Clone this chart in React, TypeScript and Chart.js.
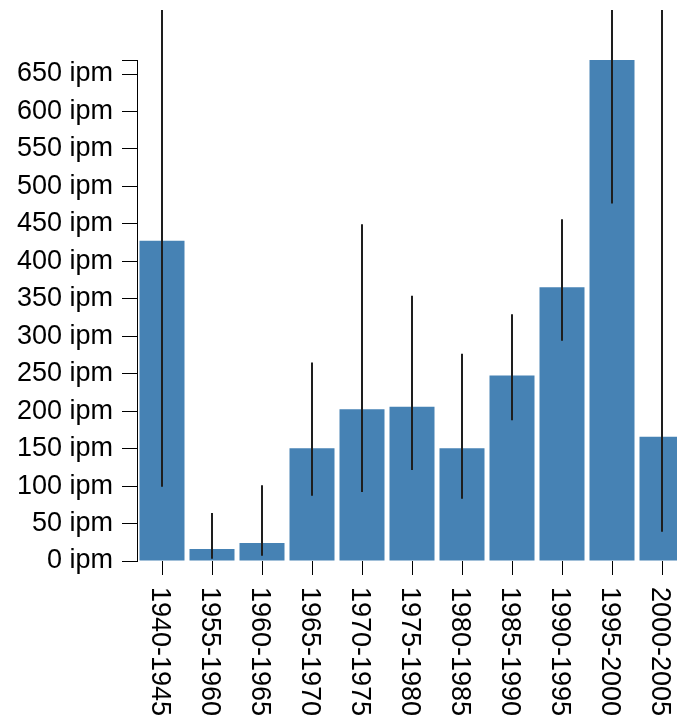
import React, { useEffect, useRef } from "react";
import { Chart, registerables } from "chart.js";

Chart.register(...registerables);

const categories = [
  "1940-1945",
  "1955-1960",
  "1960-1965",
  "1965-1970",
  "1970-1975",
  "1975-1980",
  "1980-1985",
  "1985-1990",
  "1990-1995",
  "1995-2000",
  "2000-2005",
];
const values = [427.5, 16, 24, 150.5, 202.5, 206, 150.5, 247.5, 365.5, 668.7, 166];
const errLow = [99, 3, 7, 87, 92, 121.5, 83, 188, 294, 477, 39];
const errHigh = [760, 64, 101, 265, 449.5, 354, 276.5, 329.5, 456, 860, 780];
const tickStep = 50;
const unit = "ipm";

const FONT = "'Liberation Sans', Arial, sans-serif";
const FONT_SIZE = 27;

const errorBarPlugin = {
  id: "errorBars",
  afterDatasetsDraw(chart: any) {
    const { ctx } = chart;
    const xs = chart.scales.x;
    const ys = chart.scales.y;
    ctx.save();
    ctx.strokeStyle = "#1e1e1e";
    ctx.lineWidth = 2;
    categories.forEach((_, i) => {
      const x = Math.round(xs.getPixelForValue(i));
      const y1 = ys.getPixelForValue(errLow[i]);
      const y2 = ys.getPixelForValue(errHigh[i]);
      ctx.beginPath();
      ctx.moveTo(x, y1);
      ctx.lineTo(x, y2);
      ctx.stroke();
    });
    ctx.restore();
  },
};

const xLabelPlugin = {
  id: "xLabels",
  afterDraw(chart: any) {
    const { ctx } = chart;
    const xs = chart.scales.x;
    ctx.save();
    ctx.fillStyle = "#000";
    ctx.font = `${FONT_SIZE}px ${FONT}`;
    ctx.textAlign = "left";
    ctx.textBaseline = "alphabetic";
    categories.forEach((label, i) => {
      const x = xs.getPixelForValue(i);
      const y = xs.top + 26;
      ctx.save();
      ctx.translate(x, y);
      ctx.rotate(Math.PI / 2);
      ctx.fillText(label, 0, FONT_SIZE * 0.36);
      ctx.restore();
    });
    ctx.restore();
  },
};

export default function App() {
  const ref = useRef<HTMLCanvasElement | null>(null);

  useEffect(() => {
    if (!ref.current) return;
    const yMax = Math.max(...values);
    const chart = new Chart(ref.current, {
      type: "bar",
      data: {
        labels: categories,
        datasets: [
          {
            data: values,
            backgroundColor: "#4682b4",
            borderWidth: 0,
            barPercentage: 0.9,
            categoryPercentage: 1,
          },
        ],
      },
      options: {
        animation: false,
        responsive: false,
        maintainAspectRatio: false,
        devicePixelRatio: 1,
        layout: { padding: { top: 50, left: 0, right: 0, bottom: 0 } },
        plugins: {
          legend: { display: false },
          tooltip: { enabled: false },
        },
        scales: {
          x: {
            type: "category",
            offset: true,
            grid: {
              offset: false,
              drawOnChartArea: false,
              drawTicks: true,
              tickLength: 14,
              color: "#000",
              lineWidth: 1,
            },
            border: { display: false },
            ticks: { display: false },
            afterFit(scale: any) {
              scale.height = 156;
            },
          },
          y: {
            type: "linear",
            min: 0,
            max: yMax,
            grid: {
              drawOnChartArea: false,
              drawTicks: true,
              tickLength: 15,
              color: "#000",
              lineWidth: 1,
            },
            border: { display: true, color: "#000", width: 1 },
            ticks: {
              stepSize: tickStep,
              includeBounds: false,
              autoSkip: false,
              padding: 9,
              color: "#000",
              font: { family: FONT, size: FONT_SIZE },
              callback: (v: any) =>
                Number(v) % tickStep === 0 ? `${v} ${unit}` : "",
            },
            afterBuildTicks(scale: any) {
              const last = scale.ticks[scale.ticks.length - 1];
              if (!last || last.value !== scale.max) {
                scale.ticks.push({ value: scale.max });
              }
            },
            afterFit(scale: any) {
              scale.width = 129;
            },
          },
        },
      },
      plugins: [errorBarPlugin, xLabelPlugin],
    } as any);
    return () => chart.destroy();
  }, []);

  return (
    <div
      style={{
        position: "absolute",
        left: 8,
        top: 10,
        width: 669,
        height: 707,
        overflow: "hidden",
      }}
    >
      <canvas ref={ref} width={679} height={707} style={{ display: "block" }} />
    </div>
  );
}
